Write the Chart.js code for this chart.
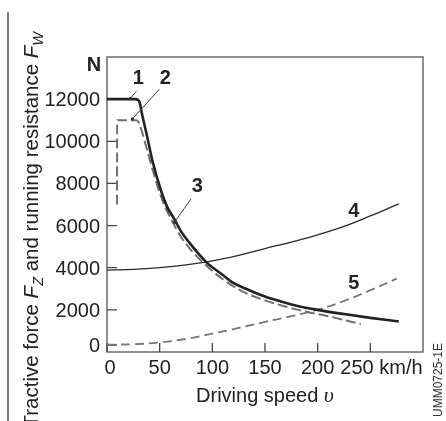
<!DOCTYPE html>
<html>
<head>
<meta charset="utf-8">
<script src="https://cdn.jsdelivr.net/npm/chart.js@4.4.1/dist/chart.umd.min.js"></script>
<style>
  html, body { margin: 0; padding: 0; background: #fff; }
  canvas { display: block; }
</style>
</head>
<body>
<canvas id="forceChart" width="446" height="421"></canvas>
<script>
// Tractive force and running resistance vs. driving speed
const speed1 = [0, 27, 29.5, 31, 33, 38, 43, 51, 57, 64, 70, 78, 94, 110, 119, 132, 150, 165, 180, 200, 225, 250, 277];
const force1 = [12000, 12000, 11960, 11850, 11350, 10250, 9100, 7700, 6900, 6300, 5750, 5200, 4280, 3650, 3300, 3000, 2630, 2400, 2200, 2000, 1800, 1620, 1450];

const speed2 = [9.5, 9.6, 28, 30, 32, 38, 43, 48, 55, 62, 70, 80, 94, 110, 132, 150, 170, 190, 210, 241];
const force2 = [7000, 11000, 11000, 10900, 10650, 9600, 8700, 7850, 6900, 6200, 5480, 4820, 4120, 3450, 2790, 2450, 2150, 1900, 1700, 1325];

const speed4 = [0, 25, 50, 75, 100, 125, 150, 175, 200, 225, 250, 277];
const force4 = [3890, 3920, 4000, 4130, 4320, 4590, 4910, 5220, 5560, 5960, 6460, 7030];

const speed5 = [0, 25, 50, 75, 100, 125, 150, 175, 200, 225, 250, 275];
const force5 = [350, 370, 450, 620, 870, 1140, 1430, 1700, 2010, 2420, 2930, 3480];

const xTicks = [0, 50, 100, 150, 200, 250];
const yTicks = [0, 2000, 4000, 6000, 8000, 10000, 12000];
const xUnit = 'km/h';
const yUnit = 'N';
const curveNames = ['1', '2', '3', '4', '5'];

const sans = '"Liberation Sans", Arial, Helvetica, sans-serif';
const ink = '#222';

function toPoints(xs, ys) {
  return xs.map((x, i) => ({ x: x, y: ys[i] }));
}

// draws a row of text pieces [text, font, dy] starting/centred/ending at x
function drawRich(ctx, parts, x, y, align) {
  let w = 0;
  parts.forEach(p => { ctx.font = p[1]; w += ctx.measureText(p[0]).width; });
  let cx = align === 'center' ? x - w / 2 : align === 'right' ? x - w : x;
  ctx.textAlign = 'left';
  parts.forEach(p => {
    ctx.font = p[1];
    ctx.fillText(p[0], cx, y + (p[2] || 0));
    cx += ctx.measureText(p[0]).width;
  });
}

const frame = {
  id: 'frame',
  beforeDatasetsDraw(chart) {
    const { ctx, chartArea: a, scales: { x, y } } = chart;
    ctx.save();
    // thin rule down the left edge of the figure
    ctx.strokeStyle = '#555';
    ctx.lineWidth = 1.5;
    ctx.beginPath();
    ctx.moveTo(8, 12);
    ctx.lineTo(8, 421);
    ctx.stroke();

    ctx.strokeStyle = '#6b6b6b';
    ctx.strokeRect(a.left, a.top, a.right - a.left, a.bottom - a.top);

    // inward tick marks
    ctx.strokeStyle = '#444';
    ctx.lineWidth = 1.3;
    ctx.beginPath();
    yTicks.forEach(v => {
      const py = y.getPixelForValue(v) - (v === 0 ? 7 : 0);
      ctx.moveTo(a.left, py);
      ctx.lineTo(a.left + 10, py);
    });
    xTicks.forEach(v => {
      const px = x.getPixelForValue(v);
      ctx.moveTo(px, a.bottom);
      ctx.lineTo(px, a.bottom - 9);
    });
    ctx.stroke();

    // tick labels
    ctx.fillStyle = ink;
    ctx.font = '20px ' + sans;
    ctx.textAlign = 'right';
    ctx.textBaseline = 'alphabetic';
    yTicks.forEach(v => {
      const py = y.getPixelForValue(v) - (v === 0 ? 7 : 0);
      ctx.fillText(String(v), a.left - 7, py + 7);
    });
    ctx.textAlign = 'center';
    xTicks.forEach((v, i) => {
      const px = x.getPixelForValue(v);
      if (i === xTicks.length - 1) {
        ctx.textAlign = 'left';
        ctx.fillText(v + ' ' + xUnit, px - 30, a.bottom + 22);
      } else {
        ctx.fillText(String(v), px + (v === 0 ? 3 : 0), a.bottom + 22);
      }
    });
    ctx.font = 'bold 20px ' + sans;
    ctx.textAlign = 'center';
    ctx.fillText(yUnit, a.left - 13, a.top + 14);

    // axis titles
    drawRich(ctx, [
      ['Driving speed ', '20px ' + sans],
      ['\u03c5', 'italic 22px "Liberation Serif", serif']
    ], (a.left + a.right) / 2, 402, 'center');

    ctx.translate(38, 32);
    ctx.rotate(-Math.PI / 2);
    drawRich(ctx, [
      ['Tractive force ', '20.5px ' + sans],
      ['F', 'italic 20.5px ' + sans],
      ['Z', 'italic 14.5px ' + sans, 5],
      [' and running resistance ', '20.5px ' + sans],
      ['F', 'italic 20.5px ' + sans],
      ['W', 'italic 14.5px ' + sans, 5]
    ], 0, 0, 'right');
    ctx.restore();

    ctx.save();
    ctx.translate(442, 380);
    ctx.rotate(-Math.PI / 2);
    ctx.fillStyle = '#333';
    ctx.font = '12px ' + sans;
    ctx.textAlign = 'center';
    ctx.fillText('UMM0725-1E', 0, 0);
    ctx.restore();
  }
};

// curve numbers with leader lines, placed in data units
const callouts = {
  id: 'callouts',
  afterDatasetsDraw(chart) {
    const { ctx, scales: { x, y } } = chart;
    const spots = [
      { at: [29.8, 12700], from: [27.9, 12380], to: [22.3, 12040] },
      { at: [55.4, 12700], from: [49.7, 12470], to: [24.1, 11060] },
      { at: [85.7, 7600], from: [80, 7280], to: [63.9, 6150] },
      { at: [234.4, 6420] },
      { at: [234.4, 2980] }
    ];
    ctx.save();
    ctx.strokeStyle = '#444';
    ctx.fillStyle = '#333';
    ctx.lineWidth = 1;
    spots.forEach(s => {
      if (!s.from) return;
      const x1 = x.getPixelForValue(s.from[0]), y1 = y.getPixelForValue(s.from[1]);
      const x2 = x.getPixelForValue(s.to[0]), y2 = y.getPixelForValue(s.to[1]);
      ctx.beginPath();
      ctx.moveTo(x1, y1);
      ctx.lineTo(x2, y2);
      ctx.stroke();
      ctx.beginPath();
      ctx.arc(x2, y2, 1.6, 0, Math.PI * 2);
      ctx.fill();
    });
    ctx.fillStyle = ink;
    ctx.font = 'bold 20px ' + sans;
    ctx.textAlign = 'center';
    spots.forEach((s, i) => {
      ctx.fillText(curveNames[i], x.getPixelForValue(s.at[0]), y.getPixelForValue(s.at[1]));
    });
    ctx.restore();
  }
};

new Chart(document.getElementById('forceChart').getContext('2d'), {
  type: 'line',
  data: {
    datasets: [
      { label: curveNames[0], data: toPoints(speed1, force1), borderColor: '#222', borderWidth: 2.6,
        cubicInterpolationMode: 'monotone' },
      { label: curveNames[1], data: toPoints(speed2, force2), borderColor: '#707070', borderWidth: 2,
        borderDash: [10, 4], cubicInterpolationMode: 'monotone' },
      { label: curveNames[3], data: toPoints(speed4, force4), borderColor: '#2a2a2a', borderWidth: 1.3,
        tension: 0.4 },
      { label: curveNames[4], data: toPoints(speed5, force5), borderColor: '#777', borderWidth: 1.8,
        borderDash: [9, 5], tension: 0.4 }
    ]
  },
  options: {
    responsive: false,
    animation: false,
    devicePixelRatio: 1,
    layout: { padding: { left: 107, right: 23, top: 57, bottom: 69 } },
    elements: {
      point: { radius: 0 },
      line: { fill: false, borderCapStyle: 'butt' }
    },
    scales: {
      x: { type: 'linear', min: 0, max: 300, display: false },
      y: { type: 'linear', min: 0, max: 14000, display: false }
    },
    plugins: { legend: { display: false }, tooltip: { enabled: false } }
  },
  plugins: [frame, callouts]
});
</script>
</body>
</html>
